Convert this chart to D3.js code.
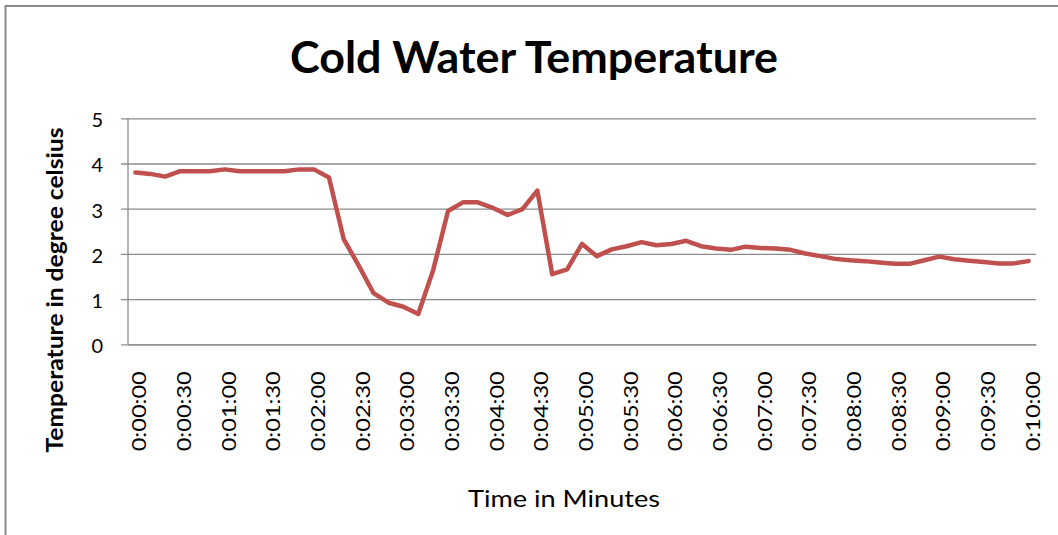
<!DOCTYPE html>
<html>
<head>
<meta charset="utf-8">
<script src="https://cdn.jsdelivr.net/npm/d3@7"></script>
<style>
  body { margin: 0; background: #fff; }
  text { font-family: Lato, "Open Sans", sans-serif; fill: #000; }
</style>
</head>
<body>
<svg width="1058" height="535"></svg>
<script>
// time stamps, one reading every 10 seconds
var times = [
  "0:00:00","0:00:10","0:00:20","0:00:30","0:00:40","0:00:50",
  "0:01:00","0:01:10","0:01:20","0:01:30","0:01:40","0:01:50",
  "0:02:00","0:02:10","0:02:20","0:02:30","0:02:40","0:02:50",
  "0:03:00","0:03:10","0:03:20","0:03:30","0:03:40","0:03:50",
  "0:04:00","0:04:10","0:04:20","0:04:30","0:04:40","0:04:50",
  "0:05:00","0:05:10","0:05:20","0:05:30","0:05:40","0:05:50",
  "0:06:00","0:06:10","0:06:20","0:06:30","0:06:40","0:06:50",
  "0:07:00","0:07:10","0:07:20","0:07:30","0:07:40","0:07:50",
  "0:08:00","0:08:10","0:08:20","0:08:30","0:08:40","0:08:50",
  "0:09:00","0:09:10","0:09:20","0:09:30","0:09:40","0:09:50",
  "0:10:00"
];

var temps = [
  3.80, 3.77, 3.71, 3.83, 3.83, 3.83, 3.87, 3.83, 3.83, 3.83,
  3.83, 3.87, 3.87, 3.69, 2.32, 1.74, 1.13, 0.92, 0.83, 0.67,
  1.64, 2.95, 3.14, 3.14, 3.02, 2.86, 2.99, 3.40, 1.55, 1.66,
  2.22, 1.95, 2.10, 2.17, 2.26, 2.19, 2.22, 2.29, 2.17, 2.12,
  2.09, 2.16, 2.13, 2.12, 2.09, 2.01, 1.95, 1.89, 1.86, 1.84,
  1.81, 1.78, 1.78, 1.86, 1.94, 1.88, 1.85, 1.82, 1.79, 1.79,
  1.84
];

// every third time stamp gets a label
var xLabels = times.filter(function(d, i) { return i % 3 === 0; });
var yTicks = [0, 1, 2, 3, 4, 5];

var svg = d3.select("svg");

// chart frame (right and bottom edges fall outside the picture)
svg.append("rect")
    .attr("x", 5.5).attr("y", 6)
    .attr("width", 1100).attr("height", 600)
    .attr("fill", "#fff")
    .attr("stroke", "#898989")
    .attr("stroke-width", 2);

var plotLeft = 128, plotRight = 1036, plotTop = 118.3, plotBottom = 344.3;

var x = d3.scaleBand()
    .domain(times)
    .range([plotLeft, plotRight]);

var y = d3.scaleLinear()
    .domain([0, 5])
    .range([plotBottom, plotTop]);

// gridlines + y ticks
var yAxis = d3.axisLeft(y)
    .tickValues(yTicks)
    .tickSize(-(plotRight - plotLeft))
    .tickSizeOuter(0)
    .tickPadding(0)
    .tickFormat(d3.format("d"));

var gy = svg.append("g")
    .attr("transform", "translate(" + plotLeft + ",0)")
    .call(yAxis);
gy.select(".domain").remove();
gy.selectAll(".tick line")
    .attr("x1", -7)
    .attr("stroke", "#8c8c8c")
    .attr("stroke-width", 1.3);
gy.selectAll(".tick text")
    .attr("x", -25)
    .attr("dy", "0.42em")
    .style("font-size", "20px")
    .style("font-family", "Lato, sans-serif")
    .attr("fill", "#000");

// vertical axis line
svg.append("line")
    .attr("x1", plotLeft).attr("x2", plotLeft)
    .attr("y1", plotTop).attr("y2", plotBottom)
    .attr("stroke", "#8c8c8c")
    .attr("stroke-width", 1.3);

// x axis labels
var xAxis = d3.axisBottom(x)
    .tickValues(xLabels)
    .tickSize(0)
    .tickPadding(0);

var gx = svg.append("g")
    .attr("transform", "translate(0," + plotBottom + ")")
    .call(xAxis);
gx.select(".domain")
    .attr("stroke", "#8c8c8c")
    .attr("stroke-width", 1.3);
gx.selectAll(".tick text")
    .attr("transform", "rotate(-90)")
    .attr("x", -27)
    .attr("y", 4)
    .attr("dy", "0.35em")
    .attr("text-anchor", "end")
    .attr("textLength", 80)
    .attr("lengthAdjust", "spacingAndGlyphs")
    .style("font-size", "20px")
    .style("font-family", "Lato, sans-serif")
    .attr("fill", "#000");

// the temperature line
var line = d3.line()
    .x(function(d, i) { return x(times[i]) + x.bandwidth() / 2; })
    .y(function(d) { return y(d); });

svg.append("path")
    .datum(temps)
    .attr("d", line)
    .attr("fill", "none")
    .attr("stroke", "#c0504d")
    .attr("stroke-width", 4.5)
    .attr("stroke-linejoin", "round")
    .attr("stroke-linecap", "round");

// titles
svg.append("text")
    .attr("x", 534).attr("y", 73)
    .attr("text-anchor", "middle")
    .attr("textLength", 488)
    .attr("lengthAdjust", "spacingAndGlyphs")
    .style("font-size", "44px")
    .style("font-weight", "bold")
    .text("Cold Water Temperature");

svg.append("text")
    .attr("transform", "translate(63,290) rotate(-90)")
    .attr("text-anchor", "middle")
    .attr("textLength", 325)
    .attr("lengthAdjust", "spacingAndGlyphs")
    .style("font-size", "22px")
    .style("font-weight", "bold")
    .text("Temperature in degree celsius");

svg.append("text")
    .attr("x", 564).attr("y", 507)
    .attr("text-anchor", "middle")
    .attr("textLength", 192)
    .attr("lengthAdjust", "spacingAndGlyphs")
    .style("font-size", "24px")
    .text("Time in Minutes");
</script>
</body>
</html>
